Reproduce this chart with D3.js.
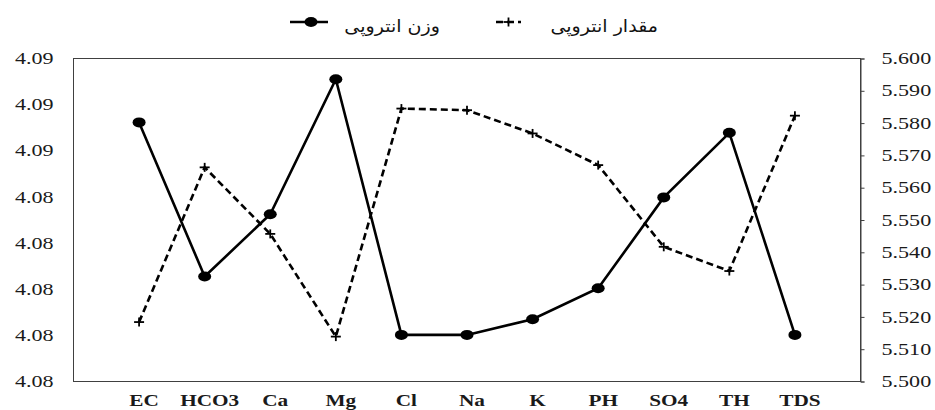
<!DOCTYPE html>
<html>
<head>
<meta charset="utf-8">
<script src="https://cdn.jsdelivr.net/npm/d3@7"></script>
<style>
  html, body { margin: 0; padding: 0; background: #fff; }
  svg { display: block; }
</style>
</head>
<body>
<svg id="chart" width="935" height="410"></svg>
<script>
// ---- data ----
const categories = ["EC", "HCO3", "Ca", "Mg", "Cl", "Na", "K", "PH", "SO4", "TH", "TDS"];
const weightEntropy = [4.08723, 4.08055, 4.08325, 4.08910, 4.07802, 4.07802, 4.07870, 4.08004, 4.08398, 4.08678, 4.07802];
const amountEntropy = [5.5184, 5.5663, 5.5457, 5.5139, 5.5845, 5.5840, 5.5768, 5.5670, 5.5417, 5.5342, 5.5823];
const leftTicks = [4.076, 4.078, 4.080, 4.082, 4.084, 4.086, 4.088, 4.090];
const rightTicks = [5.50, 5.51, 5.52, 5.53, 5.54, 5.55, 5.56, 5.57, 5.58, 5.59, 5.60];
const legendWeight = "وزن انتروپی";
const legendAmount = "مقدار انتروپی";

// ---- layout ----
const svg = d3.select("#chart");
const L = 73.5, R = 860.5, T = 58.5, B = 381.5;

const x = d3.scalePoint().domain(categories).range([L, R]).padding(1);
const yL = d3.scaleLinear().domain([4.076, 4.090]).range([B, T]);
const yR = d3.scaleLinear().domain([5.50, 5.60]).range([B, T]);

// frame
svg.append("rect").attr("x", L).attr("y", T).attr("width", R - L).attr("height", B - T)
  .attr("fill", "none").attr("stroke", "#404040").attr("stroke-width", 1);

// left axis
const gL = svg.append("g").attr("transform", `translate(${L},0)`)
  .call(d3.axisLeft(yL).tickValues(leftTicks).tickFormat(d3.format(".2f")).tickSize(0).tickPadding(20));
gL.select(".domain").remove();
gL.selectAll("text").attr("class", "num").attr("font-family", "Liberation Serif, Times New Roman, serif")
  .attr("font-size", 16).attr("fill", "#1a1a1a");

// right axis
const gR = svg.append("g").attr("transform", `translate(${R},0)`)
  .call(d3.axisRight(yR).tickValues(rightTicks).tickFormat(d3.format(".3f")).tickSize(4).tickPadding(17));
gR.select(".domain").attr("stroke", "#404040");
gR.selectAll("line").attr("stroke", "#404040");
gR.selectAll("text").attr("class", "num").attr("font-family", "Liberation Serif, Times New Roman, serif")
  .attr("font-size", 16).attr("fill", "#1a1a1a");

// x labels
svg.append("g").selectAll("text").data(categories).join("text")
  .attr("class", "xl")
  .attr("x", d => x(d) + 5).attr("y", 406)
  .attr("text-anchor", "middle")
  .attr("font-family", "Liberation Serif, Times New Roman, serif")
  .attr("font-weight", "bold").attr("font-size", 17).attr("fill", "#1a1a1a")
  .text(d => d);

// lines
const idx = d3.range(categories.length);
const lineW = d3.line().x(i => x(categories[i])).y(i => yL(weightEntropy[i]));
const lineA = d3.line().x(i => x(categories[i])).y(i => yR(amountEntropy[i]));

svg.append("path").attr("d", lineA(idx)).attr("fill", "none").attr("stroke", "#000")
  .attr("stroke-width", 2.6).attr("stroke-dasharray", "7,4");
svg.append("path").attr("d", lineW(idx)).attr("fill", "none").attr("stroke", "#000")
  .attr("stroke-width", 2.6);

// markers
svg.append("g").selectAll("ellipse").data(idx).join("ellipse")
  .attr("cx", i => x(categories[i])).attr("cy", i => yL(weightEntropy[i]))
  .attr("rx", 6.5).attr("ry", 5).attr("fill", "#000");

const cross = (g, cx, cy) => {
  g.append("line").attr("x1", cx - 5).attr("x2", cx + 5).attr("y1", cy).attr("y2", cy)
    .attr("stroke", "#000").attr("stroke-width", 1.8);
  g.append("line").attr("x1", cx).attr("x2", cx).attr("y1", cy - 4.5).attr("y2", cy + 4.5)
    .attr("stroke", "#000").attr("stroke-width", 1.8);
};
const gC = svg.append("g");
idx.forEach(i => cross(gC, x(categories[i]), yR(amountEntropy[i])));

// legend
const lg = svg.append("g");
lg.append("line").attr("x1", 290).attr("x2", 328).attr("y1", 22).attr("y2", 22)
  .attr("stroke", "#000").attr("stroke-width", 2.6);
lg.append("ellipse").attr("cx", 311).attr("cy", 22).attr("rx", 6.5).attr("ry", 5).attr("fill", "#000");
lg.append("text").attr("class", "lgt").attr("x", 440).attr("y", 32).attr("text-anchor", "end")
  .attr("font-family", "DejaVu Sans, sans-serif").attr("font-size", 17).attr("fill", "#111")
  .text(legendWeight);

lg.append("line").attr("x1", 496).attr("x2", 521).attr("y1", 22).attr("y2", 22)
  .attr("stroke", "#000").attr("stroke-width", 2.6).attr("stroke-dasharray", "7,4");
cross(lg, 508.5, 22);
lg.append("text").attr("class", "lgt").attr("x", 658).attr("y", 32).attr("text-anchor", "end")
  .attr("font-family", "DejaVu Sans, sans-serif").attr("font-size", 17).attr("fill", "#111")
  .text(legendAmount);

// horizontal stretch of text, as in the reference
const stretch = (sel, k) => sel.each(function () {
  const w = this.getComputedTextLength();
  d3.select(this).attr("textLength", w * k).attr("lengthAdjust", "spacingAndGlyphs");
});
stretch(svg.selectAll("text.num"), 1.38);
stretch(svg.selectAll("text.xl"), 1.25);
stretch(svg.selectAll("text.lgt"), 1.12);
</script>
</body>
</html>
